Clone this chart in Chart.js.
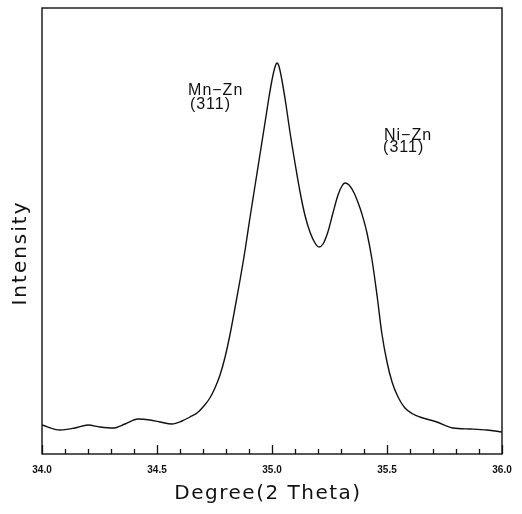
<!DOCTYPE html>
<html>
<head>
<meta charset="utf-8">
<script src="https://cdn.jsdelivr.net/npm/chart.js@4/dist/chart.umd.min.js"></script>
<style>
  html, body { margin: 0; padding: 0; background: #fff; }
  #wrap { width: 522px; height: 514px; position: relative; }
</style>
</head>
<body>
<div id="wrap"><canvas id="xrd"></canvas></div>
<script>
// XRD scan, 2-theta (degrees) vs intensity (arbitrary units)
const twoTheta = [
  34.000, 34.078, 34.143, 34.200, 34.252, 34.309, 34.361, 34.417, 34.470, 34.513,
  34.565, 34.609, 34.643, 34.674, 34.704, 34.730, 34.752, 34.774, 34.796, 34.817,
  34.839, 34.861, 34.883, 34.904, 34.926, 34.948, 34.970, 34.987, 35.000, 35.013,
  35.022, 35.030, 35.043, 35.061, 35.078, 35.100, 35.122, 35.143, 35.165, 35.187,
  35.204, 35.222, 35.243, 35.265, 35.287, 35.304, 35.317, 35.335, 35.357, 35.378,
  35.391, 35.413, 35.435, 35.457, 35.478, 35.500, 35.522, 35.548, 35.578, 35.613,
  35.643, 35.717, 35.787, 35.861, 35.935, 36.000
];
const intensity = [
  29, 24, 26, 29, 27, 26, 30, 35, 34, 32,
  30, 33, 37, 41, 48, 56, 66, 79, 97, 119,
  146, 174, 204, 236, 268, 300, 332, 357, 374, 387,
  391, 388, 374, 349, 322, 291, 262, 239, 222, 211,
  207, 210, 222, 241, 259, 268, 271, 269, 261, 249,
  240, 221, 194, 158, 120, 92, 72, 57, 46, 40,
  37, 32, 26, 25, 24, 22
];
const xTickLabels = ["34.0", "34.5", "35.0", "35.5", "36.0"];
const xTitle = "Degree(2 Theta)";
const yTitle = "Intensity";
const peakLabels = ["Mn\u2212Zn", "(311)", "Ni\u2212Zn", "(311)"];
const peakLabelX = [34.635, 34.643, 35.487, 35.483];
const peakLabelY = [371, 357, 326, 314];

const frameAndLabels = {
  id: "frameAndLabels",
  afterDraw(chart) {
    const { ctx, chartArea: a, scales } = chart;
    const xs = scales.x, ys = scales.y;
    ctx.save();
    ctx.strokeStyle = "#111";
    ctx.lineWidth = 1.4;
    ctx.strokeRect(a.left, a.top, a.right - a.left, a.bottom - a.top);

    // inward tick marks on the bottom axis
    ctx.lineWidth = 1.3;
    xs.ticks.forEach(t => {
      const px = Math.round(xs.getPixelForValue(t.value)) + 0.5;
      const major = Math.abs(t.value * 2 - Math.round(t.value * 2)) < 1e-6;
      ctx.beginPath();
      ctx.moveTo(px, a.bottom);
      ctx.lineTo(px, a.bottom - (major ? 9 : 5));
      ctx.stroke();
    });

    ctx.fillStyle = "#111";
    ctx.font = "16px 'Liberation Sans', Arial, sans-serif";
    ctx.letterSpacing = "1px";
    ctx.textBaseline = "top";
    ctx.textAlign = "left";
    peakLabels.forEach((s, i) => {
      ctx.fillText(s, xs.getPixelForValue(peakLabelX[i]), ys.getPixelForValue(peakLabelY[i]));
    });

    // axis titles (plotter style, spaced out)
    ctx.font = "20px 'DejaVu Sans', sans-serif";
    ctx.textAlign = "center";
    ctx.textBaseline = "middle";
    ctx.letterSpacing = "1.5px";
    ctx.fillText(xTitle, (a.left + a.right) / 2 - 4, 494);
    ctx.letterSpacing = "2px";
    ctx.translate(21, 253);
    ctx.rotate(-Math.PI / 2);
    ctx.fillText(yTitle, 0, 0);
    ctx.restore();
  }
};

new Chart(document.getElementById("xrd"), {
  type: "line",
  data: {
    datasets: [{
      data: twoTheta.map((x, i) => ({ x, y: intensity[i] })),
      borderColor: "#111",
      borderWidth: 1.4,
      pointRadius: 0,
      fill: false,
      cubicInterpolationMode: "monotone"
    }]
  },
  options: {
    responsive: true,
    maintainAspectRatio: false,
    animation: false,
    layout: { padding: { top: 8, right: 20, left: 0, bottom: 0 } },
    plugins: { legend: { display: false }, tooltip: { enabled: false } },
    scales: {
      x: {
        type: "linear",
        min: 34,
        max: 36,
        afterFit: s => { s.height = 60; },
        grid: { display: false, drawTicks: false },
        border: { display: false },
        ticks: {
          stepSize: 0.1,
          autoSkip: false,
          maxRotation: 0,
          padding: 10,
          color: "#111",
          font: { family: "'Liberation Sans', Arial, sans-serif", size: 10, weight: "bold" },
          callback: v => {
            const k = Math.round(v * 2);
            if (Math.abs(v * 2 - k) > 1e-6) return "";
            return xTickLabels[k - 68];
          }
        }
      },
      y: {
        min: 0,
        max: 446,
        afterFit: s => { s.width = 42; },
        grid: { display: false, drawTicks: false },
        border: { display: false },
        ticks: { display: false }
      }
    }
  },
  plugins: [frameAndLabels]
});
</script>
</body>
</html>
